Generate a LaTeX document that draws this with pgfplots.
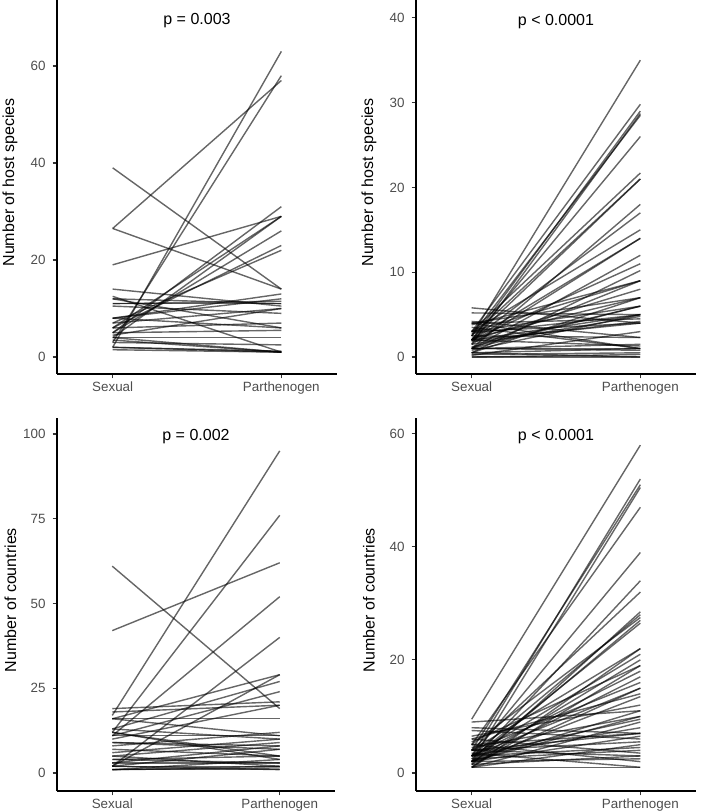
\documentclass[border=0pt]{standalone}
\usepackage{fontspec}
\setmainfont{Liberation Sans}
\usepackage{pgfplots}
\pgfplotsset{compat=1.18}
\definecolor{tickgray}{HTML}{4D4D4D}
\definecolor{tickline}{HTML}{333333}
\newcommand\pair[2]{\addplot[pairline] coordinates {(1,#1) (2,#2)};}
\tikzset{ptitle/.style={font=\fontsize{8}{9.6}\selectfont, anchor=center}}
\pgfplotsset{
  pairline/.style={black, opacity=0.6, line width=0.7pt},
  panel/.style={
    scale only axis, anchor=south west,
    axis x line*=bottom, axis y line*=left,
    axis line style={black, line width=0.85pt},
    xmin=0.67, xmax=2.33,
    xtick={1,2}, xticklabels={Sexual,Parthenogen},
    tick align=outside, major tick length=2.2pt,
    every tick/.style={tickline, line width=0.6pt},
    tick label style={font=\fontsize{6.7}{8}\selectfont, text=tickgray},
    xticklabel style={yshift=1.9pt},
    /pgf/number format/assume math mode=true,
    every axis y label/.style={at={(axis description cs:-0.168,0.512)}, rotate=90, anchor=center, font=\fontsize{8}{9.6}\selectfont},
    clip=false,
  },
}
\begin{document}
\begin{tikzpicture}
\useasboundingbox (0,0) rectangle (351pt,406pt);
% Panel 1
\begin{axis}[panel, at={(28.5pt,219pt)}, width=140pt, height=187pt,
  ymin=-3.5, ymax=73.6, ytick={0,20,40,60}, ylabel={Number of host species}]
\pair{39}{14}\pair{26.5}{57}\pair{26.5}{14}\pair{19}{29}\pair{2}{63}\pair{3}{58}
\pair{5}{31}\pair{4}{29}\pair{6}{29}\pair{5}{26}\pair{6}{23}\pair{7}{22}
\pair{14}{10.5}\pair{12.5}{1}\pair{12}{6}\pair{11}{11}\pair{11}{11.5}\pair{10.5}{9}
\pair{8}{12}\pair{8}{13}\pair{7}{10}\pair{6}{7}\pair{5}{5.5}\pair{4}{4}\pair{4}{1}
\pair{3.5}{1}\pair{3}{2.5}\pair{2}{1}\pair{2}{1.2}\pair{1.5}{1}\pair{4.5}{10}\pair{8}{6}\pair{12}{11}
\node[ptitle] at (axis description cs:0.5,0.944) {p = 0.003};
\end{axis}
% Panel 2
\begin{axis}[panel, at={(208pt,219pt)}, width=140pt, height=187pt,
  ymin=-2.0, ymax=42.1, ytick={0,10,20,30,40}, ylabel={Number of host species}]
\pair{2.5}{35}\pair{3}{29.8}\pair{2}{29}\pair{1.5}{28.7}\pair{2.5}{28.5}\pair{2}{26}
\pair{3}{21.7}\pair{2}{21}\pair{2.5}{21}\pair{1}{18}\pair{2}{17}\pair{3}{15}
\pair{1.5}{14}\pair{2}{14}\pair{1}{12}\pair{2}{11}\pair{0.5}{10.2}\pair{3}{9}
\pair{1}{9}\pair{2}{8}\pair{0.5}{7}\pair{4}{7}\pair{1}{6}\pair{3}{6}\pair{2}{5}
\pair{0.8}{5}\pair{1.5}{4.8}\pair{4}{4.5}\pair{3}{4}\pair{2}{4}\pair{5.8}{4}\pair{5.2}{5}
\pair{2.5}{2.3}\pair{1}{1.5}\pair{2}{1.3}\pair{4}{1}\pair{3.5}{1}\pair{1}{1}\pair{0.5}{1}
\pair{0.3}{0.5}\pair{0}{0.3}\pair{0}{0}\pair{0.5}{0}\pair{1}{0.8}\pair{4.2}{2.3}\pair{2.8}{5}
\pair{1.2}{6}\pair{0.2}{3}\pair{3.8}{9}\pair{2.2}{7}\pair{1.8}{4.2}
\node[ptitle] at (axis description cs:0.5,0.943) {p < 0.0001};
\end{axis}
% Panel 3
\begin{axis}[panel, at={(28.5pt,10.5pt)}, width=139pt, height=186.5pt,
  ymin=-5.3, ymax=104.7, ytick={0,25,50,75,100}, ylabel={Number of countries}]
\pair{61}{19}\pair{42}{62}\pair{17}{95}\pair{12}{76}\pair{11}{52}\pair{2}{40}
\pair{16}{29}\pair{2}{29}\pair{13}{27}\pair{11}{24}\pair{19}{21}\pair{16}{16}
\pair{16}{11}\pair{12}{4}\pair{10}{20}\pair{9}{7}\pair{8}{12}\pair{6}{10}
\pair{5}{9}\pair{4}{5}\pair{3}{8}\pair{3}{3}\pair{2}{2}\pair{2}{1}\pair{1}{1}
\pair{1}{4}\pair{1}{1.5}\pair{12}{5}\pair{11}{11}\pair{13}{10}\pair{9}{8}\pair{7}{5}
\pair{5}{2}\pair{4}{3}\pair{2}{7}\pair{1}{2}\pair{18}{20}
\node[ptitle] at (axis description cs:0.5,0.949) {p = 0.002};
\end{axis}
% Panel 4
\begin{axis}[panel, at={(208pt,10.5pt)}, width=140pt, height=186.5pt,
  ymin=-3.2, ymax=62.8, ytick={0,20,40,60}, ylabel={Number of countries}]
\pair{9.5}{58}\pair{3}{52}\pair{4}{51}\pair{2}{50.5}\pair{5}{47}\pair{3}{39}
\pair{2}{34}\pair{4}{32}\pair{1.5}{28.5}\pair{3}{28}\pair{5}{27.5}\pair{2}{27}
\pair{2.5}{26.5}\pair{1}{22}\pair{4}{22}\pair{3}{21}\pair{2}{20}\pair{5.5}{19}
\pair{1}{19}\pair{3}{18}\pair{2}{17}\pair{4}{16}\pair{1.5}{15}\pair{3}{15}
\pair{6}{14}\pair{2}{13.5}\pair{9}{11}\pair{4.5}{10}\pair{2}{10}\pair{1}{9}
\pair{3}{8}\pair{8}{7}\pair{5}{7}\pair{2}{6.5}\pair{7.5}{6}\pair{4}{5.5}
\pair{1}{5}\pair{3}{4.5}\pair{2.5}{4}\pair{6}{3.5}\pair{1.5}{3}\pair{4}{3}
\pair{2}{2.5}\pair{5}{2}\pair{3.5}{1}\pair{1}{1}\pair{6.5}{12}\pair{2}{11}
\pair{3}{9.5}\pair{4}{7}
\node[ptitle] at (axis description cs:0.5,0.951) {p < 0.0001};
\end{axis}
\end{tikzpicture}
\end{document}
